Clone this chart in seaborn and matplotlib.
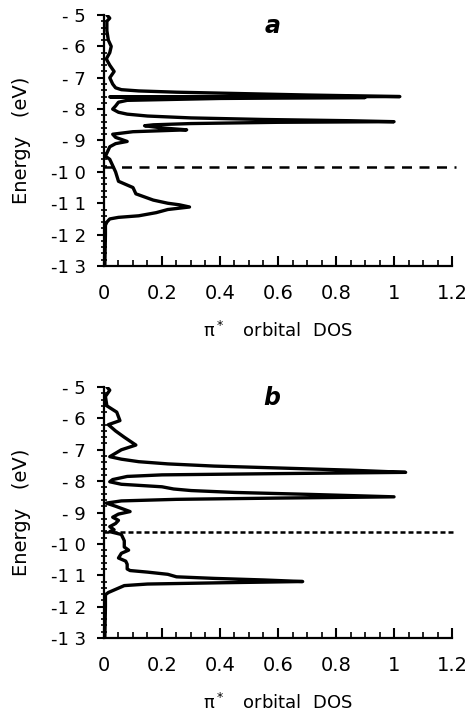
import numpy as np
import pandas as pd
import matplotlib
matplotlib.use('Agg')
import matplotlib.pyplot as plt
from matplotlib.ticker import MultipleLocator, FixedLocator, FixedFormatter
import seaborn as sns

# panel a : pi* DOS vs energy
energy_a = [-5.0, -5.1, -5.2, -5.5, -5.8, -5.9, -6.0, -6.2, -6.4, -6.6, -6.8, -7.0, -7.2,
            -7.32, -7.38, -7.42, -7.46, -7.5, -7.55, -7.6, -7.61, -7.62, -7.63, -7.66,
            -7.72, -7.78, -7.9, -8.0, -8.1, -8.16, -8.22, -8.28, -8.33, -8.37, -8.4,
            -8.42, -8.46, -8.5, -8.53, -8.6, -8.66, -8.72, -8.8, -8.9, -9.03, -9.1,
            -9.2, -9.4, -9.5, -9.6, -9.8, -10.0, -10.3, -10.5, -10.7, -10.9, -11.0,
            -11.05, -11.12, -11.2, -11.3, -11.4, -11.45, -11.5, -11.6, -11.7, -12.0,
            -12.5, -13.0]
dos_a = [0.01, 0.02, 0.01, 0.01, 0.015, 0.02, 0.025, 0.02, 0.008, 0.02, 0.035, 0.02, 0.03,
         0.04, 0.06, 0.12, 0.25, 0.45, 0.7, 1.02, 0.02, 0.35, 0.9, 0.4,
         0.08, 0.05, 0.04, 0.03, 0.05, 0.08, 0.15, 0.3, 0.55, 0.85, 1.0,
         0.6, 0.3, 0.17, 0.14, 0.2, 0.285, 0.1, 0.03, 0.04, 0.08, 0.04,
         0.02, 0.01, 0.005, 0.02, 0.03, 0.04, 0.05, 0.1, 0.11, 0.17, 0.22,
         0.26, 0.295, 0.22, 0.18, 0.12, 0.05, 0.02, 0.01, 0.005, 0.005,
         0.004, 0.003]
fermi_a = -9.83

# panel b
energy_b = [-5.0, -5.1, -5.3, -5.6, -5.8, -6.07, -6.2, -6.4, -6.6, -6.85, -7.0, -7.22,
            -7.3, -7.38, -7.45, -7.52, -7.58, -7.65, -7.72, -7.76, -7.8, -7.85, -7.95,
            -8.02, -8.1, -8.18, -8.25, -8.3, -8.36, -8.42, -8.5, -8.54, -8.58, -8.63,
            -8.7, -8.8, -8.97, -9.05, -9.15, -9.25, -9.35, -9.45, -9.55, -9.61, -9.7,
            -9.8, -9.9, -10.1, -10.2, -10.3, -10.45, -10.55, -10.65, -10.8, -10.85,
            -10.9, -10.97, -11.05, -11.1, -11.15, -11.2, -11.24, -11.28, -11.33, -11.45,
            -11.55, -11.62, -12.0, -12.5, -13.0]
dos_b = [0.01, 0.02, 0.005, 0.01, 0.044, 0.055, 0.015, 0.04, 0.07, 0.11, 0.06, 0.02,
         0.06, 0.12, 0.22, 0.38, 0.6, 0.85, 1.04, 0.6, 0.2, 0.08, 0.03,
         0.02, 0.06, 0.2, 0.24, 0.3, 0.45, 0.7, 1.0, 0.6, 0.25, 0.06,
         0.008, 0.04, 0.09, 0.05, 0.03, 0.05, 0.04, 0.02, 0.035, 0.02, 0.06,
         0.065, 0.07, 0.07, 0.085, 0.06, 0.05, 0.075, 0.08, 0.08, 0.09,
         0.15, 0.22, 0.25, 0.38, 0.55, 0.685, 0.4, 0.15, 0.07, 0.04,
         0.015, 0.005, 0.005, 0.004, 0.003]
fermi_b = -9.61

ytick_vals = [-5, -6, -7, -8, -9, -10, -11, -12, -13]
ytick_labels = ['- 5', '- 6', '- 7', '- 8', '- 9', '-1 0', '-1 1', '-1 2', '-1 3']
xtick_vals = [0, 0.2, 0.4, 0.6, 0.8, 1.0, 1.2]
xtick_labels = ['0', '0.2', '0.4', '0.6', '0.8', '1', '1.2']

sns.set_style('ticks', {'axes.edgecolor': 'black', 'text.color': 'black',
                        'axes.labelcolor': 'black', 'xtick.color': 'black',
                        'ytick.color': 'black'})
plt.rcParams['font.family'] = ['DejaVu Sans']

fig = plt.figure(figsize=(4.69, 7.15), dpi=100)
ax_a = fig.add_axes([0.2217, 0.628, 0.7421, 0.351])
ax_b = fig.add_axes([0.2217, 0.1077, 0.7421, 0.351])

panels = [(ax_a, energy_a, dos_a, fermi_a, 'a', (0, (4, 3))),
          (ax_b, energy_b, dos_b, fermi_b, 'b', (0, (2, 1.2)))]

for ax, en, ds, ef, tag, dash in panels:
    df = pd.DataFrame({'energy': en, 'dos': ds})
    sns.lineplot(data=df, x='dos', y='energy', sort=False, estimator=None,
                 color='black', lw=2.4, ax=ax)
    ax.axhline(ef, xmin=0, xmax=1.01, color='black', lw=1.8, linestyle=dash, clip_on=False)
    ax.set_xlim(0, 1.2)
    ax.set_ylim(-13, -5)
    ax.yaxis.set_major_locator(FixedLocator(ytick_vals))
    ax.yaxis.set_major_formatter(FixedFormatter(ytick_labels))
    ax.yaxis.set_minor_locator(MultipleLocator(0.2))
    ax.xaxis.set_major_locator(FixedLocator(xtick_vals))
    ax.xaxis.set_major_formatter(FixedFormatter(xtick_labels))
    ax.xaxis.set_minor_locator(MultipleLocator(0.05))
    ax.tick_params(axis='y', which='major', direction='out', length=5, width=1.5,
                   labelsize=13, pad=8)
    ax.tick_params(axis='y', which='minor', direction='inout', length=4, width=1.2)
    ax.tick_params(axis='x', which='major', direction='in', length=7, width=1.5,
                   labelsize=14, pad=13)
    ax.tick_params(axis='x', which='minor', direction='in', length=4, width=1.2)
    for s in ['left', 'bottom']:
        ax.spines[s].set_linewidth(1.6)
    sns.despine(ax=ax)
    ax.set_ylabel('Energy   (eV)', fontsize=14, labelpad=14)
    ax.set_xlabel('π$^*$   orbital  DOS', fontsize=13, labelpad=13)
    ax.text(0.58, -5.35, tag, fontsize=17, fontstyle='italic', fontweight='bold',
            ha='center', va='center')

fig.savefig('out.png', dpi=100)
